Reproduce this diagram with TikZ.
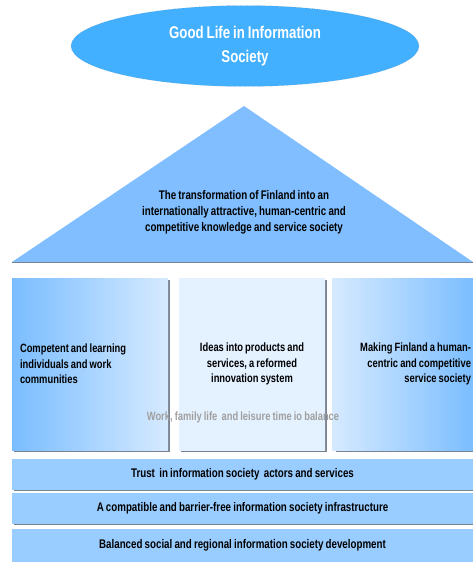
\documentclass[tikz,border=0pt]{standalone}
\usepackage{fontspec}
\setmainfont{Liberation Sans}[FakeStretch=0.78,WordSpace=0.8,BoldFont={* Bold}]
\usetikzlibrary{shapes.geometric}
\definecolor{goalblue}{RGB}{66,176,255}
\definecolor{roofblue}{RGB}{128,190,255}
\definecolor{pillardark}{RGB}{122,189,255}
\definecolor{pillarlight}{RGB}{214,234,255}
\definecolor{pillarpale}{RGB}{228,241,255}
\definecolor{baseblue}{RGB}{153,204,255}
\definecolor{shadowgrey}{RGB}{120,130,145}
\begin{document}
\begin{tikzpicture}[x=1pt,y=-1pt,
  goal/.style={ellipse, fill=goalblue, draw=gray, dotted, minimum width=348pt, minimum height=81pt,
    text=white, align=center, font=\bfseries\fontsize{17}{24}\selectfont},
  roof/.style={align=center, font=\bfseries\fontsize{12.5}{16}\selectfont},
  pillar/.style={minimum height=172pt, inner sep=4pt, font=\bfseries\fontsize{12}{15.5}\selectfont},
  shade/.style={draw=shadowgrey, line width=1.2pt},
  layer/.style={fill=baseblue, minimum width=461pt, inner sep=0pt, font=\bfseries\fontsize{12.5}{14}\selectfont}]
\useasboundingbox (0,0) rectangle (473,562);
% goal at the top
\node [goal] (goal) at (245,46) {Good Life in Information\\Society};
% roof
\fill [roofblue] (12,262) -- (244,106) -- (473,262) -- cycle;
\draw [shade] (12,262.5) -- (473,262.5);
\node [roof] (vision) at (244,212) {The transformation of Finland into an\\internationally attractive, human-centric and\\competitive knowledge and service society};
% pillars
\draw [shade] (169,280) -- (169,451) -- (14,451);
\draw [shade] (326,280) -- (326,451) -- (181,451);
\draw [shade] (336,451) -- (473,451);
\node [pillar, left color=pillardark, right color=pillarlight, minimum width=156pt, text width=140pt, align=flush left] (competent) at (90,364) {Competent and learning\\individuals and work\\communities};
\node [pillar, left color=pillarpale, middle color=white, right color=pillarpale, minimum width=146pt, text width=138pt, align=flush center] (ideas) at (252,364) {Ideas into products and\\services, a reformed\\innovation system};
\node [pillar, left color=pillarlight, right color=pillardark, minimum width=139pt, text width=135pt, align=flush right] (making) at (403.5,364) {Making Finland a human-\\centric and competitive\\service society};
\node [font=\bfseries\fontsize{12}{12}\selectfont, text=gray!75] (balance) at (243,417) {Work,\ family life \ and leisure time io balance};
% foundation layers
\draw [shade] (14,490.5) -- (473,490.5);
\draw [shade] (14,524.5) -- (473,524.5);
\node [layer, minimum height=31pt] (trust) at (242.5,474.5) {Trust \ in information society \ actors and services};
\node [layer, minimum height=31pt] (infra) at (242.5,508.5) {A compatible and barrier-free information society infrastructure};
\node [layer, minimum height=33pt] (development) at (242.5,545.5) {Balanced social and regional information society development};
\end{tikzpicture}
\end{document}
